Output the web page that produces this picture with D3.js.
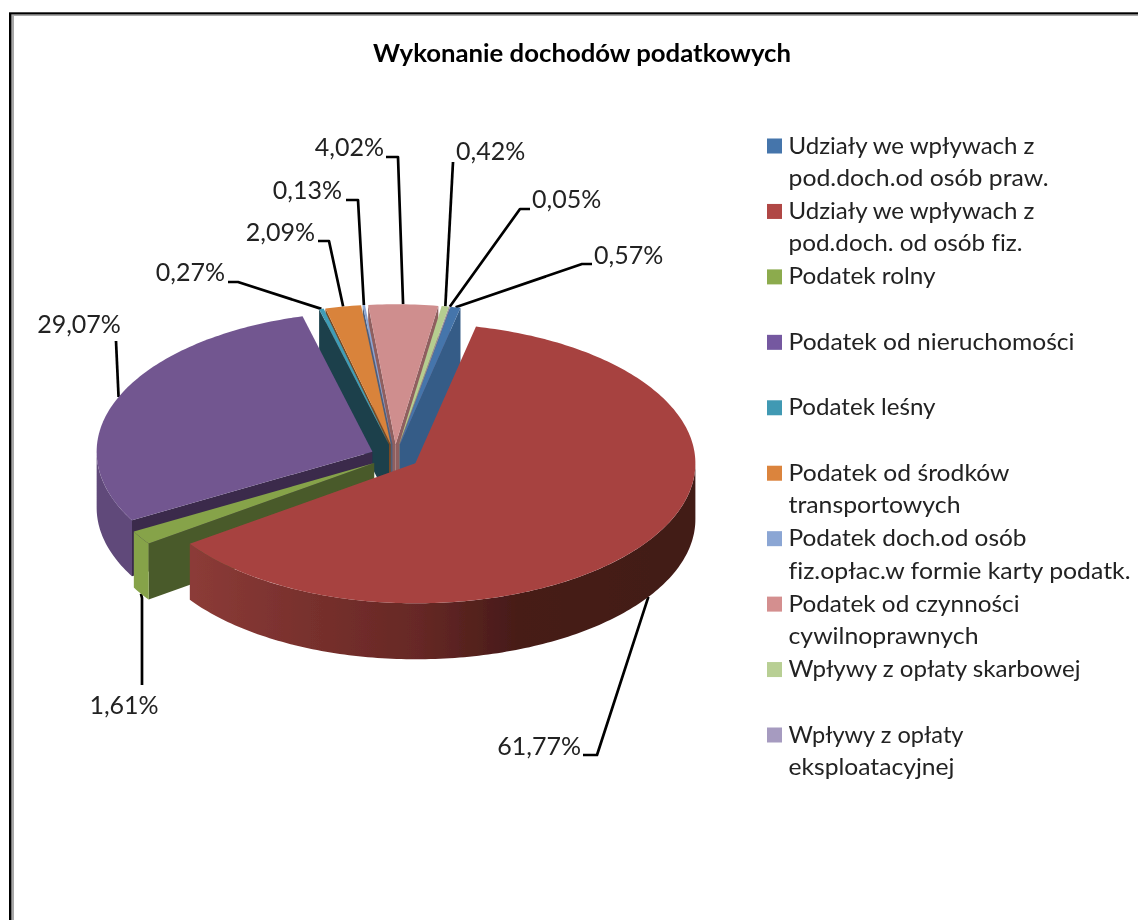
<!DOCTYPE html>
<html><head><meta charset="utf-8">
<style>html,body{margin:0;padding:0;background:#fff}svg{display:block}text{font-family:Lato,"Open Sans",sans-serif;font-variant-ligatures:none}</style>
<script src="https://cdn.jsdelivr.net/npm/d3@7"></script>
</head><body><svg id="c" width="1138" height="920"></svg>
<script>
const title = "Wykonanie dochodów podatkowych";
const categories = [
  "Udziały we wpływach z\npod.doch.od osób praw.",
  "Udziały we wpływach z\npod.doch. od osób fiz.",
  "Podatek rolny",
  "Podatek od nieruchomości",
  "Podatek leśny",
  "Podatek od środków\ntransportowych",
  "Podatek doch.od osób\nfiz.opłac.w formie karty podatk.",
  "Podatek od czynności\ncywilnoprawnych",
  "Wpływy z opłaty skarbowej",
  "Wpływy z opłaty\neksploatacyjnej"
];
const shares = [0.57, 61.77, 1.61, 29.07, 0.27, 2.09, 0.13, 4.02, 0.42, 0.05];
const topColors  = ["#4575ab","#a74341","#86a34a","#725690","#3f9cb6","#d9833a","#8aa5d4","#cf8e8e","#b6cd90","#a696bf"];
const wallColors = ["#365c87","#6f2b29","#4a5a29","#3a2b4b","#1b3f4b","#7a4a20","#4d5f7d","#8f5f5f","#7f8f62","#6f6385"];
const rimColors  = ["#4575ab","#6f2b29","#86a34a","#604a7a","#3f9cb6","#d9833a","#8aa5d4","#cf8e8e","#b6cd90","#a696bf"];
const swatchColors = ["#4575ab","#b04744","#8cab4e","#7459a0","#4199b3","#db843d","#8ba6d4","#d48f8f","#b8cf94","#a69bc0"];

// layout of the callouts (elbows and text anchors), kept apart from the data
const calloutLayout = [
  {elbow:[[582,264],[592,264]], text:[594,256], anchor:"start", low:false},
  {elbow:[[597,755],[583,755]], text:[581,747], anchor:"end",   low:true},
  {elbow:[[142,598],[142,685]], text:[124,706], anchor:"middle",low:true},
  {elbow:[[116,341]],           text:[79,325],  anchor:"middle",low:false},
  {elbow:[[238,282],[228,282]], text:[225,273], anchor:"end",   low:false},
  {elbow:[[329,241],[318,241]], text:[315,233], anchor:"end",   low:false},
  {elbow:[[358,200],[346,200]], text:[342,191], anchor:"end",   low:false},
  {elbow:[[398,157],[386,157]], text:[384,148], anchor:"end",   low:false},
  {elbow:[[453,162]],           text:[456,152], anchor:"start", low:false},
  {elbow:[[520,209],[530,209]], text:[532,200], anchor:"start", low:false}
];
// measured widths of the legend lines
const legendWidths = [[246,260],[246,234],[147],[286],[147],[221,172],[238,342],[231,190],[292],[175,166]];

const cx = 395, cy = 456.5, R = 280, tilt = 0.5, depth = 56, explode = 24.5, leftSqueeze = 0.985;
const startDeg = 10.45;
const rad = d => d * Math.PI / 180;

const locale = d3.formatLocale({decimal:",",thousands:" ",grouping:[3],currency:["","zł"]});
const fmt = locale.format(".2f");

const svg = d3.select("#c");
const defs = svg.append("defs");
defs.append("filter").attr("id","soft").attr("x","-5%").attr("y","-5%").attr("width","110%").attr("height","110%")
  .append("feGaussianBlur").attr("stdDeviation",0.45);

// window frame
svg.append("rect").attr("x",9).attr("y",12.3).attr("width",1129).attr("height",908).attr("fill","#000");
svg.append("rect").attr("x",11.3).attr("y",14.3).attr("width",1127).attr("height",906).attr("fill","#a8a8a8");
svg.append("rect").attr("x",14).attr("y",16).attr("width",1124).attr("height",904).attr("fill","#fff");

const g = svg.append("g").attr("filter","url(#soft)");

g.append("text").attr("x",582).attr("y",62).attr("text-anchor","middle")
  .attr("font-size",25).attr("font-weight",700).attr("fill","#000").attr("textLength",418).attr("lengthAdjust","spacingAndGlyphs").text(title);

const pie = d3.pie().sort(null).value(d => d)
  .startAngle(rad(startDeg)).endAngle(rad(startDeg + 360));
const arcs = pie(shares);

const slices = arcs.map((a,i) => {
  const mid = (a.startAngle + a.endAngle) / 2;
  const ax = cx + explode * Math.sin(mid), ay = cy - explode * tilt * Math.cos(mid);
  const at = t => {
    const sx = Math.sin(t);
    return [ax + R * sx * (sx < 0 ? leftSqueeze : 1), ay - R * tilt * Math.cos(t)];
  };
  return {i, a, mid, ax, ay, at};
});

const line = d3.line();
function arcPts(s, t0, t1, dy){
  const n = Math.max(2, Math.ceil(Math.abs(t1 - t0) / rad(1)));
  return d3.range(n + 1).map(k => { const p = s.at(t0 + (t1 - t0) * k / n); return [p[0], p[1] + dy]; });
}

// red rim gradient
const gr = defs.append("linearGradient").attr("id","rimRed").attr("gradientUnits","userSpaceOnUse")
  .attr("x1",195).attr("x2",695).attr("y1",0).attr("y2",0);
[[0,"#8b3b37"],[0.2,"#7a312e"],[0.45,"#662825"],[0.65,"#461b18"],[1,"#421a17"]]
  .forEach(([o,c]) => gr.append("stop").attr("offset",o).attr("stop-color",c));

// callouts below the pie
const calloutG = g.append("g");
const pieG = g.append("g");
const labelG = g.append("g");

slices.forEach(s => {
  const L = calloutLayout[s.i];
  const p0 = s.at(s.mid);
  const start = [p0[0], p0[1] + (L.low ? depth : 0)];
  calloutG.append("path").attr("d", line([start, ...L.elbow])).attr("fill","none")
    .attr("stroke","#000").attr("stroke-width",2.7).attr("stroke-linejoin","round");
  labelG.append("text").attr("x",L.text[0]).attr("y",L.text[1]).attr("dy","0.32em")
    .attr("text-anchor",L.anchor).attr("font-size",25).attr("fill","#222").text(fmt(shares[s.i]) + "%");
});

// painter's order: back of the pie first
const distFromTop = s => { const d = ((s.mid % (2*Math.PI)) + 2*Math.PI) % (2*Math.PI); return Math.min(d, 2*Math.PI - d); };
const order = slices.slice().sort((a,b) => distFromTop(a) - distFromTop(b));

order.forEach(s => {
  const i = s.i, t0 = s.a.startAngle, t1 = s.a.endAngle;
  const wall = t => {
    const p = s.at(t);
    return line([[s.ax,s.ay],p,[p[0],p[1]+depth],[s.ax,s.ay+depth]]) + "Z";
  };
  const wallC = wallColors[i];
  // side cuts turned towards the viewer
  if (Math.sin(t0) < 0) pieG.append("path").attr("d",wall(t0)).attr("fill",wallC);
  if (Math.sin(t1) > 0) pieG.append("path").attr("d",wall(t1)).attr("fill",wallC);
  // outer rim, visible on the front half
  const lo = Math.max(t0, rad(90)), hi = Math.min(t1, rad(270));
  if (hi > lo) {
    const up = arcPts(s, lo, hi, 0), down = arcPts(s, hi, lo, depth);
    pieG.append("path").attr("d", line(up.concat(down)) + "Z").attr("fill", i === 1 ? "url(#rimRed)" : rimColors[i]);
  }
  // top face
  pieG.append("path").attr("d", line([[s.ax,s.ay], ...arcPts(s,t0,t1,0)]) + "Z")
    .attr("fill", topColors[i]);
});

// legend
const yLegend = d3.scaleLinear().domain([0,9]).range([146,735]);
const lg = g.selectAll("g.lg").data(categories).join("g").attr("class","lg")
  .attr("transform",(d,i) => `translate(767,${yLegend(i)})`);
lg.append("rect").attr("x",0).attr("y",-7.5).attr("width",15).attr("height",15).attr("fill",(d,i)=>swatchColors[i]);
lg.each(function(d,i){
  d.split("\n").forEach((t,k) => {
    d3.select(this).append("text").attr("x",21.5).attr("y",7.5 + k*32.5)
      .attr("font-size",24).attr("fill","#222")
      .attr("textLength",legendWidths[i][k]).attr("lengthAdjust","spacingAndGlyphs").text(t);
  });
});
</script></body></html>
